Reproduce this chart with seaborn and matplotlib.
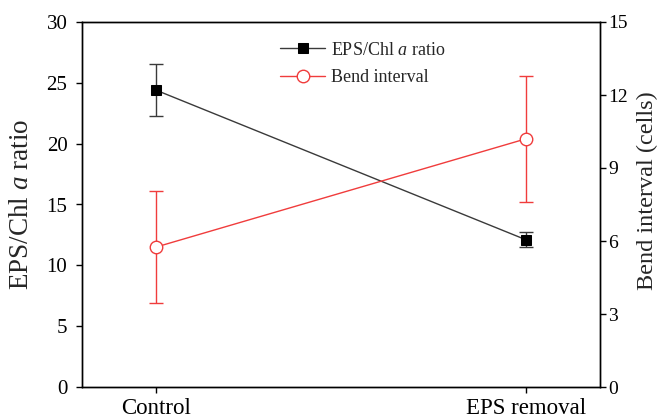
import matplotlib
matplotlib.use("Agg")
import matplotlib.pyplot as plt
import seaborn as sns
import pandas as pd

# data
groups = ["Control", "EPS removal"]
eps_ratio = [24.4, 12.1]
eps_err = [2.15, 0.6]
bend = [5.75, 10.2]
bend_err = [2.3, 2.6]

sns.set_style("ticks")
plt.rcParams["font.family"] = ["Liberation Serif", "DejaVu Serif"]
plt.rcParams["mathtext.fontset"] = "custom"
plt.rcParams["mathtext.rm"] = "Liberation Serif"
plt.rcParams["mathtext.it"] = "Liberation Serif:italic"

df = pd.DataFrame({"x": [0, 1], "eps": eps_ratio, "bend": bend})

fig = plt.figure(figsize=(6.58, 4.19), dpi=100)
ax = fig.add_axes([82 / 658, 1 - 387 / 419, 518 / 658, 365 / 419])
ax2 = ax.twinx()

black = "#3a3a3a"
red = "#f03c3c"

ax.errorbar(df["x"], df["eps"], yerr=eps_err, fmt="none", ecolor=black,
            elinewidth=1, capsize=5, capthick=1, zorder=2)
sns.lineplot(data=df, x="x", y="eps", ax=ax, color=black, lw=1,
             marker="s", markersize=7, markerfacecolor="black",
             markeredgecolor="black", label="EPS/Chl $\\it{a}$ ratio", legend=False, zorder=3)

ax2.errorbar(df["x"], df["bend"], yerr=bend_err, fmt="none", ecolor=red,
             elinewidth=1, capsize=5, capthick=1, zorder=2)
sns.lineplot(data=df, x="x", y="bend", ax=ax2, color=red, lw=1,
             marker="o", markersize=9, markerfacecolor="white",
             markeredgecolor=red, markeredgewidth=1, label="Bend interval", legend=False, zorder=3)

ax.set_xlim(-0.2, 1.2)
ax.set_ylim(0, 30)
ax2.set_ylim(0, 15)
ax.set_xticks([0, 1])
ax.set_xticklabels(groups)
ax.set_yticks(range(0, 31, 5))
ax2.set_yticks(range(0, 16, 3))

for a in (ax, ax2):
    a.tick_params(length=4.5, width=1, colors="black", direction="out")
    for s in a.spines.values():
        s.set_visible(True)
        s.set_linewidth(1)
        s.set_color("black")
ax.tick_params(axis="x", labelsize=16.5)
ax.tick_params(axis="y", labelsize=15, pad=6)
ax2.tick_params(axis="y", labelsize=14, pad=1.5)

ax.set_xlabel("")
ax.set_ylabel("EPS/Chl $\\it{a}$ ratio", fontsize=19.5)
ax2.set_ylabel("Bend interval (cells)", fontsize=17.5)
ax.yaxis.set_label_coords(-0.092, 0.5)
ax2.yaxis.set_label_coords(1.071, 0.537)

h1, l1 = ax.get_legend_handles_labels()
h2, l2 = ax2.get_legend_handles_labels()
fig.legend(h1 + h2, l1 + l2, loc="center left",
           bbox_to_anchor=(280 / 658, 1 - 64 / 419), frameon=False,
           fontsize=13, handlelength=2.5, handletextpad=0.3,
           labelspacing=0.6, borderpad=0, borderaxespad=0)

fig.savefig("out.png", dpi=100)
